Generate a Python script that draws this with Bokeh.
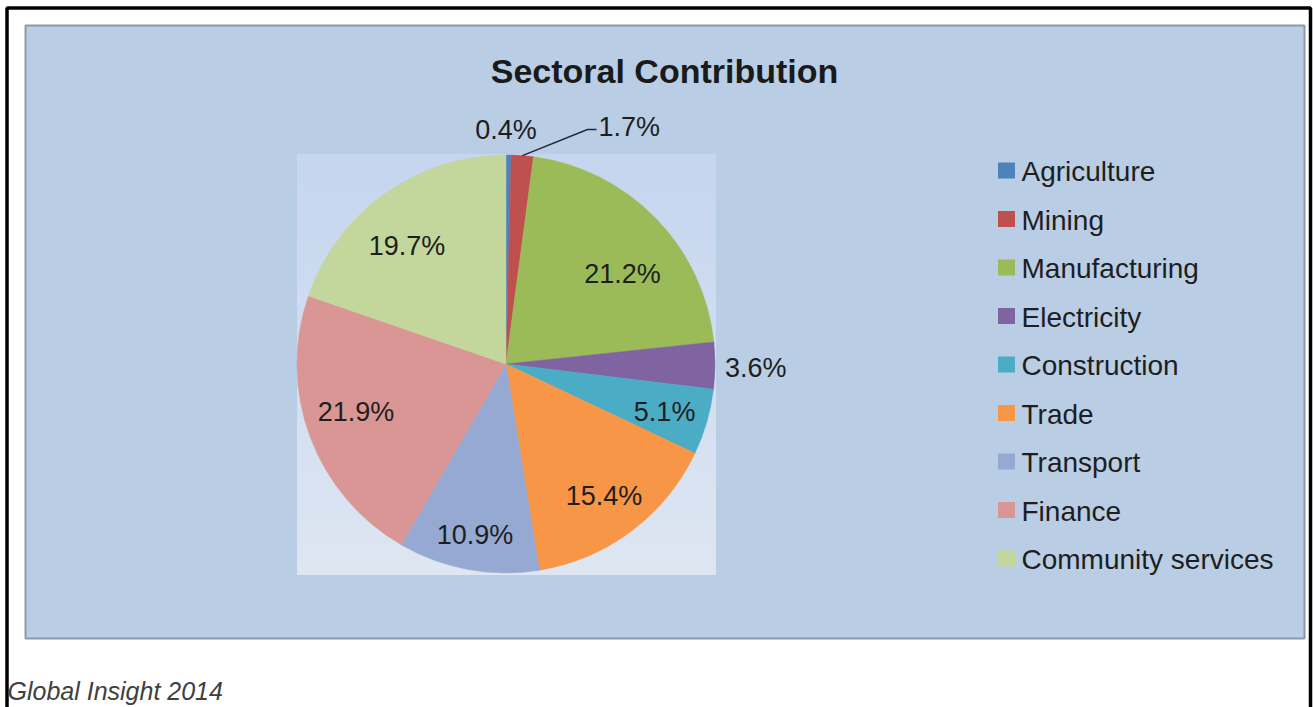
import numpy as np
from bokeh.plotting import figure
from bokeh.models import Range1d
from bokeh.core.properties import value
from bokeh.embed import file_html
from bokeh.resources import INLINE

# ---- data ----
sectors = ["Agriculture", "Mining", "Manufacturing", "Electricity", "Construction",
           "Trade", "Transport", "Finance", "Community services"]
shares = [0.4, 1.7, 21.2, 3.6, 5.1, 15.4, 10.9, 21.9, 19.7]
colors = ["#4F81BD", "#C0504D", "#9BBB59", "#8064A2", "#4BACC6",
          "#F79646", "#95A9D3", "#D99694", "#C3D69B"]
title = "Sectoral Contribution"
source_note = "Global Insight 2014"

W, H = 1314, 707
FONT = value("Liberation Sans")

def X(ix):
    return ix

def Y(iy):
    return H - iy

p = figure(width=W, height=H, x_range=Range1d(0, W), y_range=Range1d(0, H),
           x_axis_type=None, y_axis_type=None, toolbar_location=None,
           output_backend="svg", min_border=0)
p.grid.visible = False
p.outline_line_color = None
p.background_fill_color = "white"
p.border_fill_color = "white"

# outer black frame (top, left, right)
p.line([X(6.5), X(6.5), X(1310), X(1310)], [0, Y(7.5), Y(7.5), 0],
       line_color="black", line_width=3.5)

# chart area
p.quad(left=X(25), right=X(1304), top=Y(25), bottom=Y(638),
       fill_color="#B9CDE5", line_color="#8E9AAA", line_width=2)

# plot area with a soft vertical gradient
nb = 40
edges = np.linspace(154, 574, nb + 1)
c_top = np.array([0xC6, 0xD6, 0xEF])
c_bot = np.array([0xDE, 0xE6, 0xF2])
band_cols = []
for i in range(nb):
    t = i / (nb - 1)
    c = (c_top * (1 - t) + c_bot * t).astype(int)
    band_cols.append("#%02X%02X%02X" % tuple(c))
p.quad(left=X(297), right=X(715), top=[Y(e) for e in edges[:-1]],
       bottom=[Y(e) for e in edges[1:]], fill_color=band_cols,
       line_color=band_cols, line_width=1)

# pie
cx, cy, R = 505.5, 363.5, 209
vals = np.array(shares, dtype=float)
frac = vals / vals.sum()
cum = np.concatenate([[0], np.cumsum(frac)])
start = np.pi / 2 - 2 * np.pi * cum[1:]
end = np.pi / 2 - 2 * np.pi * cum[:-1]
p.wedge(x=X(cx), y=Y(cy), radius=R, start_angle=start, end_angle=end,
        direction="anticlock", fill_color=colors, line_color=colors, line_width=0.5)

# data labels (inside: mid-angle + small angular nudge, radius fraction)
mid = 2 * np.pi * (cum[:-1] + cum[1:]) / 2  # clockwise from top
lab_r = np.array([0, 0, 0.71, 0, 0.79, 0.78, 0.82, 0.75, 0.745]) * R
lab_nudge = np.radians([0, 0, 6, 0, 0, 0, 0, 3.5, -4])
lx, ly, ltxt, lalign = [], [], [], []
for i, s in enumerate(shares):
    txt = "%.1f%%" % s
    if i == 0:
        x, y, al = cx, 129, "center"
    elif i == 1:
        x, y, al = 598, 126, "left"
    elif i == 3:
        x, y, al = cx + R + 10, cy + 4, "left"
    else:
        a = mid[i] + lab_nudge[i]
        x = cx + lab_r[i] * np.sin(a)
        y = cy - lab_r[i] * np.cos(a) + 2
        al = "center"
    lx.append(X(x)); ly.append(Y(y)); ltxt.append(txt); lalign.append(al)
p.text(x=lx, y=ly, text=ltxt, text_align=lalign, text_baseline="middle",
       text_font=FONT, text_font_size="27px", text_color="#1E1E1E")

# leader line for Mining
ex = cx + R * np.sin(mid[1])
ey = cy - R * np.cos(mid[1])
p.line([X(ex), X(587), X(596)], [Y(ey), Y(129), Y(129)], line_color="#1E2A3A", line_width=1.5)

# title
p.text(x=[X(664)], y=[Y(70)], text=[title], text_align="center", text_baseline="middle",
       text_font=FONT, text_font_style="bold", text_font_size="34px", text_color="#1A1A1A")

# legend
leg_y = [170 + 48.5 * i for i in range(len(sectors))]
p.rect(x=[X(1006)] * len(sectors), y=[Y(v) for v in leg_y], width=17, height=16,
       fill_color=colors, line_color=None)
p.text(x=[X(1021)] * len(sectors), y=[Y(v + 1) for v in leg_y], text=sectors,
       text_align="left", text_baseline="middle", text_font=FONT,
       text_font_size="28px", text_color="#1E1E1E")

# source note
p.text(x=[X(7)], y=[Y(690)], text=[source_note], text_align="left", text_baseline="middle",
       text_font=FONT, text_font_style="italic", text_font_size="25px", text_color="#404040")

open("out.html", "w").write(file_html(p, INLINE))
